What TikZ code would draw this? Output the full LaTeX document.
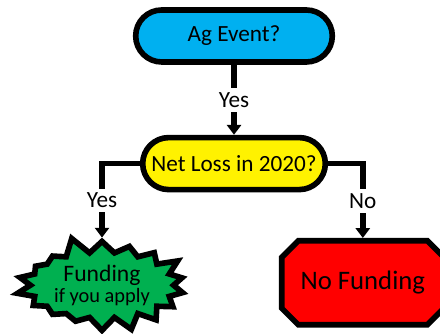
\documentclass[tikz,border=0pt]{standalone}
\usepackage{fontspec}
\setmainfont{Carlito}
\usetikzlibrary{positioning}
\usetikzlibrary{arrows.meta}
\usetikzlibrary{shapes.misc}
\usetikzlibrary{shapes.symbols}

\definecolor{eventblue}{RGB}{0,176,240}
\definecolor{fundgreen}{RGB}{0,176,80}

\tikzset{
    decision/.style={draw=black, line width=4pt, rounded rectangle,
        minimum width=5.15cm, minimum height=1.3cm,
        font=\fontsize{16.5}{20}\selectfont},
    conn/.style={line width=4pt, -{Triangle[width=10pt,length=7pt]}},
    answer/.style={fill=white, inner sep=3pt, font=\fontsize{16.5}{20}\selectfont},
}

\begin{document}
\begin{tikzpicture}
    \clip (0,0) rectangle (11,8.35);
    \node[decision, fill=eventblue] (event) at (5.85,7.45) {Ag Event?};
    \node[decision, fill=yellow, minimum width=4.8cm] (loss) at (5.85,4.26) {Net Loss in 2020?};
    \node[starburst, starburst points=18, starburst point height=0.45cm, random starburst=5,
          draw=black, line width=4pt, fill=fundgreen, align=center, inner sep=2pt,
          minimum height=2.1cm, minimum width=2.5cm]
          (fund) at (2.55,1.22)
          {\fontsize{16.8}{20}\selectfont Funding\\[1pt]\fontsize{14.5}{18}\selectfont if you apply};
    \node[chamfered rectangle, chamfered rectangle xsep=0.3cm, draw=black, line width=4pt,
          fill=red, minimum width=4.05cm, minimum height=2.1cm,
          font=\fontsize{19}{22}\selectfont] (nofund) at (9.07,1.28) {No Funding};

    \draw[conn] (event) -- node[answer] {Yes} (loss);
    \draw[conn] (loss.west) -| node[answer, pos=0.75] {Yes} (fund);
    \draw[conn] (loss.east) -| node[answer, pos=0.75] {No} (nofund);
\end{tikzpicture}
\end{document}
